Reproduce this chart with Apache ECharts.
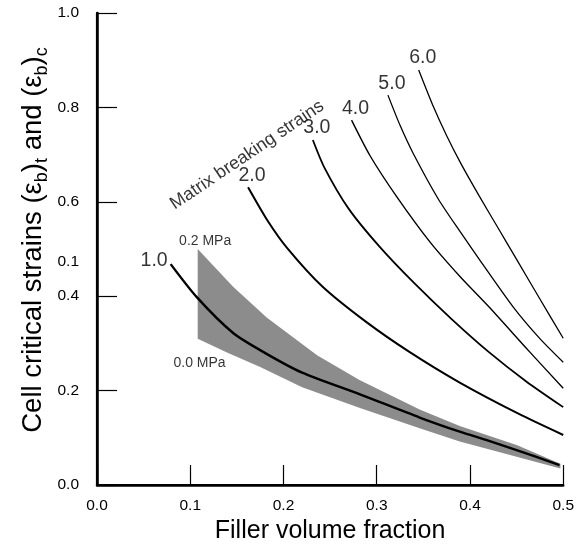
<!DOCTYPE html>
<html>
<head>
<meta charset="utf-8">
<script src="https://cdn.jsdelivr.net/npm/echarts@6/dist/echarts.min.js"></script>
<style>html,body{margin:0;padding:0;background:#fff;}#c{width:577px;height:556px;}</style>
</head>
<body>
<div id="c"></div>
<script>
// ---- data ----
const curveNames = ['1.0', '2.0', '3.0', '4.0', '5.0', '6.0'];
const curve10 = [[0.079,0.468],[0.107,0.398],[0.146,0.322],[0.18,0.28],[0.22,0.238],[0.282,0.192],[0.346,0.143],[0.389,0.113],[0.418,0.095],[0.45,0.074],[0.496,0.042]];
const curve20 = [[0.162,0.631],[0.183,0.56],[0.204,0.502],[0.242,0.42],[0.289,0.345],[0.335,0.282],[0.389,0.217],[0.453,0.150],[0.5,0.106]];
const curve30 = [[0.2315,0.731],[0.244,0.672],[0.27,0.585],[0.303,0.505],[0.34,0.428],[0.38,0.352],[0.42,0.282],[0.46,0.220],[0.5,0.165]];
const curve40 = [[0.273,0.773],[0.293,0.697],[0.321,0.612],[0.357,0.515],[0.39,0.44],[0.42,0.378],[0.464,0.282],[0.5,0.205]];
const curve50 = [[0.312,0.826],[0.325,0.762],[0.339,0.703],[0.366,0.606],[0.39,0.535],[0.41,0.478],[0.446,0.378],[0.475,0.31],[0.5,0.26]];
const curve60 = [[0.345,0.879],[0.36,0.805],[0.375,0.740],[0.39,0.682],[0.41,0.612],[0.43,0.545],[0.45,0.478],[0.475,0.394],[0.5,0.311]];
const curves = [curve10, curve20, curve30, curve40, curve50, curve60];
const bandUpper = [[0.108,0.50],[0.146,0.42],[0.182,0.355],[0.236,0.275],[0.282,0.222],[0.346,0.16],[0.389,0.125],[0.45,0.085],[0.497,0.045]];
const bandLower = [[0.108,0.31],[0.14,0.28],[0.175,0.25],[0.22,0.207],[0.282,0.163],[0.346,0.12],[0.389,0.092],[0.45,0.06],[0.497,0.035]];
const xTickValues = [0, 0.1, 0.2, 0.3, 0.4, 0.5];
const yLabelValues = [0, 0.2, 0.4, 0.472, 0.6, 0.8, 1.0];
const yLabelTexts = ['0.0', '0.2', '0.4', '0.1', '0.6', '0.8', '1.0'];
const annotations = [
  { text: 'Matrix breaking strains', at: [0.161, 0.699] },
  { text: '0.2 MPa', at: [0.116, 0.517] },
  { text: '0.0 MPa', at: [0.110, 0.258] }
];
const xTitle = 'Filler volume fraction';

// ---- chart ----
const chart = echarts.init(document.getElementById('c'), null, { renderer: 'canvas' });
const FONT = '"Liberation Sans", Arial, Helvetica, sans-serif';
const lineWidths = [2.4, 2.0, 1.8, 1.4, 1.3, 1.3];

const series = [];
series.push({
  type: 'custom',
  silent: true,
  z: 1,
  data: [bandUpper[0]],
  renderItem: function (params, api) {
    const pts = bandUpper.map(p => api.coord(p)).concat(bandLower.slice().reverse().map(p => api.coord(p)));
    return { type: 'polygon', shape: { points: pts }, style: { fill: 'rgba(95,95,95,0.72)' } };
  }
});
curves.forEach((c, i) => {
  series.push({
    type: 'line', data: c, smooth: 0.25, showSymbol: false, symbol: 'none', z: 3,
    lineStyle: { color: '#000', width: lineWidths[i] }, silent: true
  });
});
series.push({
  type: 'scatter', symbolSize: 0, z: 4, silent: true,
  data: curves.map((c, i) => ({
    value: c[0],
    label: i === 0
      ? { show: true, formatter: curveNames[i], position: 'left', distance: 3, offset: [0, -3] }
      : { show: true, formatter: curveNames[i], position: 'top', distance: 2, offset: [4, 0] }
  })),
  label: { color: '#000', fontSize: 19.5, fontFamily: FONT }
});
series.push({
  type: 'scatter', symbolSize: 0, z: 4, silent: true,
  data: annotations.map((a, i) => ({
    value: a.at,
    label: {
      show: true, formatter: a.text, position: 'inside',
      fontSize: i === 0 ? 18 : 14, rotate: i === 0 ? 34 : 0, color: '#000', fontFamily: FONT
    }
  }))
});

const option = {
  animation: false,
  backgroundColor: '#fff',
  grid: { left: 97, right: 13, top: 13, bottom: 71, containLabel: false },
  xAxis: [{
    type: 'value', min: 0, max: 0.5, interval: 0.1,
    axisLine: { show: true, lineStyle: { color: '#000', width: 2.5 } },
    axisTick: { show: true, inside: true, length: 20, lineStyle: { color: '#000', width: 1.2 } },
    axisLabel: { color: '#000', fontSize: 15.5, fontFamily: FONT, margin: 13,
      customValues: xTickValues, formatter: v => v.toFixed(1) },
    splitLine: { show: false },
    name: xTitle, nameLocation: 'middle', nameGap: 20,
    nameTextStyle: { color: '#000', fontSize: 25, fontFamily: FONT, verticalAlign: 'top' }
  }, {
    type: 'value', min: 0, max: 0.5, position: 'top',
    axisLine: { show: true, lineStyle: { color: '#000', width: 1.8 } },
    axisTick: { show: false }, axisLabel: { show: false }, splitLine: { show: false }
  }],
  yAxis: [{
    type: 'value', min: 0, max: 1.0, interval: 0.2,
    axisLine: { show: true, lineStyle: { color: '#000', width: 2.5 } },
    axisTick: { show: true, inside: true, length: 20, lineStyle: { color: '#000', width: 1.2 } },
    axisLabel: { color: '#000', fontSize: 15.5, fontFamily: FONT, margin: 18,
      customValues: yLabelValues,
      formatter: v => { const k = yLabelValues.findIndex(t => Math.abs(t - v) < 1e-6); return k >= 0 ? yLabelTexts[k] : v.toFixed(1); } },
    splitLine: { show: false }
  }, {
    type: 'value', min: 0, max: 1.0, position: 'right',
    axisLine: { show: true, lineStyle: { color: '#000', width: 2.2 } },
    axisTick: { show: false }, axisLabel: { show: false }, splitLine: { show: false }
  }],
  graphic: [{
    type: 'text', x: 33, y: 240, rotation: Math.PI / 2,
    style: {
      text: '{n|Cell critical strains (ε}{s|b}{n|)}{s|t}{n| and (ε}{s|b}{n|)}{s|c}',
      align: 'center', verticalAlign: 'middle',
      rich: {
        n: { fontSize: 27.5, fontFamily: FONT, fill: '#000', lineHeight: 36, verticalAlign: 'middle' },
        s: { fontSize: 18, fontFamily: FONT, fill: '#000', lineHeight: 19, verticalAlign: 'bottom' }
      }
    }
  }],
  series: series
};
chart.setOption(option);
</script>
</body>
</html>
